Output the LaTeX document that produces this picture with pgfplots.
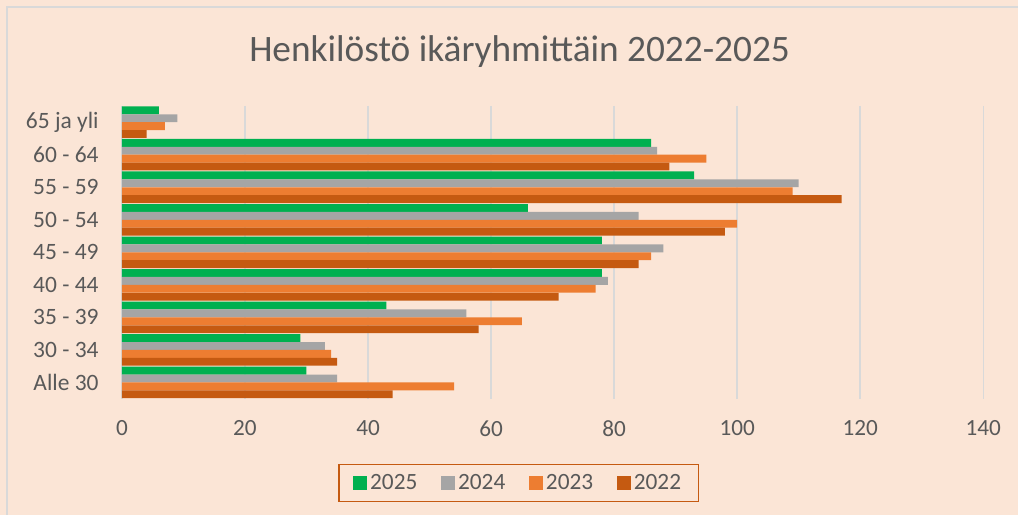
\documentclass[border=0pt]{standalone}
\usepackage{pgfplots}
\pgfplotsset{compat=1.18}
\usepackage{pgfplotstable}
\usepackage{fontspec}
\setmainfont{Carlito}
\definecolor{bgpeach}{HTML}{FBE5D6}
\definecolor{cgreen}{HTML}{00B050}
\definecolor{cgray}{HTML}{A5A5A5}
\definecolor{corange}{HTML}{ED7D31}
\definecolor{cdark}{HTML}{C55A11}
\definecolor{txtgray}{HTML}{595959}
\definecolor{gridgray}{HTML}{D9D9D9}
\pgfplotstableread{
idx y2025 y2024 y2023 y2022
0 6 9 7 4
1 86 87 95 89
2 93 110 109 117
3 66 84 100 98
4 78 88 86 84
5 78 79 77 71
6 43 56 65 58
7 29 33 34 35
8 30 35 54 44
}\datatable
\begin{document}
\begin{tikzpicture}
\fill[bgpeach] (0,0) rectangle (764.25pt,-386.25pt);
\draw[gridgray,line width=1.2pt] (5.25pt,-386.25pt) -- (5.25pt,-5.25pt) -- (764.25pt,-5.25pt);
\node[txtgray,anchor=base,font=\fontsize{28}{32}\selectfont] at (390pt,-46.3pt) {Henkilöstö ikäryhmittäin 2022-2025};
\begin{axis}[
  at={(91.5pt,-299.25pt)}, anchor=south west,
  scale only axis, width=646.5pt, height=219.75pt,
  xbar, xmin=0, xmax=140, ymin=-0.5, ymax=8.5, y dir=reverse,
  xtick={0,20,...,140},
  ytick={0,...,8},
  yticklabels={65 ja yli, 60 - 64, 55 - 59, 50 - 54, 45 - 49, 40 - 44, 35 - 39, 30 - 34, Alle 30},
  axis line style={draw=none},
  major tick length=0pt,
  xmajorgrids, grid style={gridgray, line width=1.1pt},
  tick label style={txtgray},
  /pgf/number format/assume math mode=true,
  xticklabel style={font=\fontsize{17.4}{20}\selectfont, yshift=-13pt},
  yticklabel style={font=\fontsize{17.6}{20}\selectfont, xshift=-14pt},
  bar width=5.9pt,
  legend columns=4,
  legend style={at={(0.4606,-0.2884)}, anchor=center, draw=cdark, line width=1.1pt,
    fill=bgpeach, text=txtgray, font=\fontsize{17.5}{20}\selectfont,
    /tikz/every even column/.append style={column sep=16pt},
    inner xsep=11pt, inner ysep=5.5pt},
  legend image code/.code={\fill[#1] (0pt,-5.25pt) rectangle (10.5pt,5.25pt);},
]
\addplot[fill=cgreen, draw=none, bar shift=8.89pt] table[x=y2025, y=idx] {\datatable};
\addplot[fill=cgray, draw=none, bar shift=2.96pt] table[x=y2024, y=idx] {\datatable};
\addplot[fill=corange, draw=none, bar shift=-2.96pt] table[x=y2023, y=idx] {\datatable};
\addplot[fill=cdark, draw=none, bar shift=-8.89pt] table[x=y2022, y=idx] {\datatable};
\legend{2025, 2024, 2023, 2022}
\end{axis}
\end{tikzpicture}
\end{document}
